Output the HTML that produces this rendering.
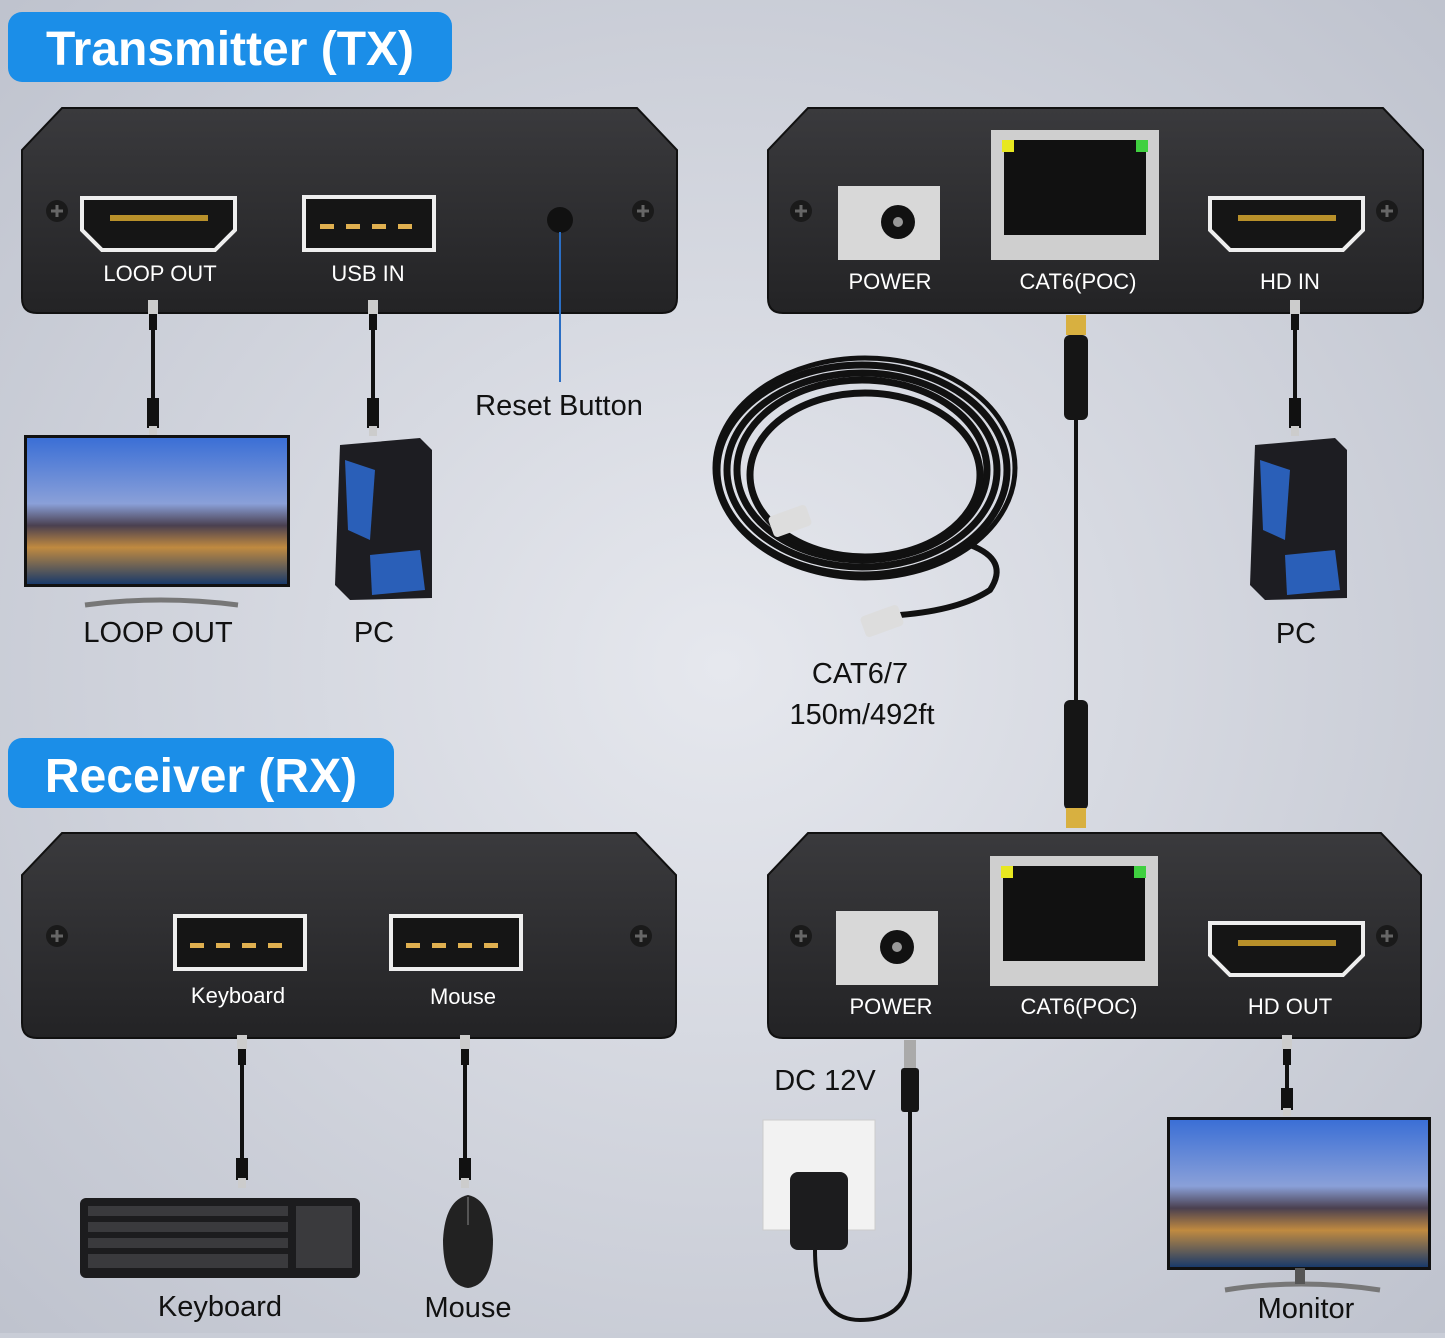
<!DOCTYPE html>
<html><head><meta charset="utf-8"><style>
html,body{margin:0;padding:0;}
body{width:1445px;height:1333px;overflow:hidden;background:#c9cdd7;}
svg text{font-family:"Liberation Sans",sans-serif;}
</style></head><body>
<svg width="1445" height="1333" viewBox="0 0 1445 1333" xmlns="http://www.w3.org/2000/svg">
<defs>
<radialGradient id="bg" cx="50%" cy="50%" r="70%">
<stop offset="0" stop-color="#e6e8ee"/><stop offset="1" stop-color="#bfc3ce"/></radialGradient>
<linearGradient id="dev" x1="0" y1="0" x2="0" y2="1">
<stop offset="0" stop-color="#3a3a3d"/><stop offset="1" stop-color="#232325"/></linearGradient>
<linearGradient id="scr" x1="0" y1="0" x2="0" y2="1">
<stop offset="0" stop-color="#3b6fd6"/><stop offset="0.45" stop-color="#8aa0d8"/><stop offset="0.6" stop-color="#4a4050"/><stop offset="0.75" stop-color="#c08a40"/><stop offset="1" stop-color="#1a3a6a"/></linearGradient>
<g id="screw"><circle r="11" fill="#1a1a1a"/><path d="M-6 0H6M0 -6V6" stroke="#666" stroke-width="3"/></g>
<g id="usbplug"><rect x="-5" y="0" width="10" height="14" fill="#ccc"/><rect x="-4" y="14" width="8" height="16" fill="#111"/></g>
</defs>
<rect width="1445" height="1333" fill="url(#bg)"/>

<!-- Titles -->
<rect x="8" y="12" width="444" height="70" rx="14" fill="#1b8ee8"/>
<text x="230" y="65" font-size="48" font-weight="bold" fill="#fff" text-anchor="middle">Transmitter (TX)</text>
<rect x="8" y="738" width="386" height="70" rx="14" fill="#1b8ee8"/>
<text x="201" y="792" font-size="48" font-weight="bold" fill="#fff" text-anchor="middle">Receiver (RX)</text>

<!-- Devices -->
<g fill="url(#dev)" stroke="#111" stroke-width="2">
<path d="M62 108H637L677 150V298Q677 313 662 313H37Q22 313 22 298V150Z"/>
<path d="M808 108H1383L1423 150V298Q1423 313 1408 313H783Q768 313 768 298V150Z"/>
<path d="M62 833H636L676 875V1023Q676 1038 661 1038H37Q22 1038 22 1023V875Z"/>
<path d="M808 833H1381L1421 875V1023Q1421 1038 1406 1038H783Q768 1038 768 1023V875Z"/>
</g>
<use href="#screw" x="57" y="211"/><use href="#screw" x="643" y="211"/>
<use href="#screw" x="801" y="211"/><use href="#screw" x="1387" y="211"/>
<use href="#screw" x="57" y="936"/><use href="#screw" x="641" y="936"/>
<use href="#screw" x="801" y="936"/><use href="#screw" x="1387" y="936"/>

<!-- TX left ports -->
<path d="M82 198H235V230L215 250H102L82 230Z" fill="#151515" stroke="#eee" stroke-width="4"/>
<rect x="110" y="215" width="98" height="6" fill="#b8902a"/>
<rect x="304" y="197" width="130" height="53" fill="#151515" stroke="#eee" stroke-width="4"/>
<g fill="#e0b050"><rect x="320" y="224" width="14" height="5"/><rect x="346" y="224" width="14" height="5"/><rect x="372" y="224" width="14" height="5"/><rect x="398" y="224" width="14" height="5"/></g>
<circle cx="560" cy="220" r="13" fill="#111"/>
<line x1="560" y1="232" x2="560" y2="382" stroke="#2a6ec4" stroke-width="2"/>
<g fill="#fff" font-size="22" text-anchor="middle">
<text x="160" y="281">LOOP OUT</text><text x="368" y="281">USB IN</text>
<text x="890" y="289">POWER</text><text x="1078" y="289">CAT6(POC)</text><text x="1290" y="289">HD IN</text>
<text x="238" y="1003">Keyboard</text><text x="463" y="1004">Mouse</text>
<text x="891" y="1014">POWER</text><text x="1079" y="1014">CAT6(POC)</text><text x="1290" y="1014">HD OUT</text>
</g>

<!-- TX right ports -->
<rect x="838" y="186" width="102" height="74" fill="#d8d8d8"/><circle cx="898" cy="222" r="17" fill="#111"/><circle cx="898" cy="222" r="5" fill="#999"/>
<rect x="991" y="130" width="168" height="130" fill="#cfcfcf"/><rect x="1004" y="140" width="142" height="95" fill="#111"/>
<rect x="1002" y="140" width="12" height="12" fill="#e8e820"/><rect x="1136" y="140" width="12" height="12" fill="#40d040"/>
<path d="M1210 198H1363V230L1343 250H1230L1210 230Z" fill="#151515" stroke="#eee" stroke-width="4"/>
<rect x="1238" y="215" width="98" height="6" fill="#b8902a"/>

<!-- RX left ports -->
<rect x="175" y="916" width="130" height="53" fill="#151515" stroke="#eee" stroke-width="4"/>
<rect x="391" y="916" width="130" height="53" fill="#151515" stroke="#eee" stroke-width="4"/>
<g fill="#e0b050"><rect x="190" y="943" width="14" height="5"/><rect x="216" y="943" width="14" height="5"/><rect x="242" y="943" width="14" height="5"/><rect x="268" y="943" width="14" height="5"/>
<rect x="406" y="943" width="14" height="5"/><rect x="432" y="943" width="14" height="5"/><rect x="458" y="943" width="14" height="5"/><rect x="484" y="943" width="14" height="5"/></g>

<!-- RX right ports -->
<rect x="836" y="911" width="102" height="74" fill="#d8d8d8"/><circle cx="897" cy="947" r="17" fill="#111"/><circle cx="897" cy="947" r="5" fill="#999"/>
<rect x="990" y="856" width="168" height="130" fill="#cfcfcf"/><rect x="1003" y="866" width="142" height="95" fill="#111"/>
<rect x="1001" y="866" width="12" height="12" fill="#e8e820"/><rect x="1134" y="866" width="12" height="12" fill="#40d040"/>
<path d="M1210 923H1363V955L1343 975H1230L1210 955Z" fill="#151515" stroke="#eee" stroke-width="4"/>
<rect x="1238" y="940" width="98" height="6" fill="#b8902a"/>

<!-- Cables -->
<g stroke="#111" stroke-width="4" fill="none">
<line x1="153" y1="330" x2="153" y2="400"/><line x1="373" y1="330" x2="373" y2="400"/>
<line x1="1295" y1="330" x2="1295" y2="400"/>
<line x1="1076" y1="420" x2="1076" y2="700"/>
<line x1="242" y1="1060" x2="242" y2="1160"/><line x1="465" y1="1060" x2="465" y2="1160"/>
<line x1="1287" y1="1060" x2="1287" y2="1090"/>
<path d="M910 1110V1270Q910 1320 860 1320Q815 1320 815 1250"/>
</g>
<g>
<use href="#usbplug" x="153" y="300"/><use href="#usbplug" x="373" y="300"/><use href="#usbplug" x="1295" y="300"/>
<use href="#usbplug" x="242" y="1035"/><use href="#usbplug" x="465" y="1035"/><use href="#usbplug" x="1287" y="1035"/>
<rect x="147" y="398" width="12" height="30" fill="#111"/><rect x="149" y="426" width="8" height="10" fill="#ccc"/>
<rect x="367" y="398" width="12" height="30" fill="#111"/><rect x="369" y="426" width="8" height="10" fill="#ccc"/>
<rect x="1289" y="398" width="12" height="30" fill="#111"/><rect x="1291" y="426" width="8" height="10" fill="#ccc"/>
<rect x="236" y="1158" width="12" height="22" fill="#111"/><rect x="238" y="1178" width="8" height="10" fill="#ccc"/>
<rect x="459" y="1158" width="12" height="22" fill="#111"/><rect x="461" y="1178" width="8" height="10" fill="#ccc"/>
<rect x="1281" y="1088" width="12" height="22" fill="#111"/><rect x="1283" y="1108" width="8" height="8" fill="#ccc"/>
<!-- cat6 plugs -->
<rect x="1066" y="315" width="20" height="20" fill="#d8b040"/><rect x="1064" y="335" width="24" height="85" rx="6" fill="#151515"/>
<rect x="1064" y="700" width="24" height="110" rx="6" fill="#151515"/><rect x="1066" y="808" width="20" height="20" fill="#d8b040"/>
<rect x="904" y="1040" width="12" height="30" fill="#aaa"/><rect x="901" y="1068" width="18" height="44" rx="3" fill="#151515"/>
</g>

<!-- Cable coil -->
<g fill="none" stroke="#111" stroke-width="7">
<ellipse cx="862" cy="470" rx="145" ry="105"/><ellipse cx="862" cy="470" rx="135" ry="97"/>
<ellipse cx="862" cy="470" rx="125" ry="90"/><ellipse cx="865" cy="475" rx="115" ry="82"/>
<ellipse cx="865" cy="468" rx="150" ry="110" stroke-width="5"/>
<path d="M970 545Q1010 560 990 590Q960 610 900 615" stroke-width="6"/>
</g>
<rect x="770" y="510" width="40" height="22" rx="4" fill="#ddd" transform="rotate(-20 790 521)"/>
<rect x="862" y="610" width="40" height="22" rx="4" fill="#ddd" transform="rotate(-20 882 621)"/>

<!-- Monitors -->
<rect x="24" y="435" width="266" height="152" fill="#111"/><rect x="27" y="438" width="260" height="146" fill="url(#scr)"/>
<path d="M85 605Q160 595 238 605" stroke="#777" stroke-width="5" fill="none"/>
<rect x="1167" y="1117" width="264" height="153" fill="#111"/><rect x="1170" y="1120" width="258" height="147" fill="url(#scr)"/>
<path d="M1225 1290Q1300 1278 1380 1290" stroke="#777" stroke-width="5" fill="none"/>
<rect x="1295" y="1268" width="10" height="16" fill="#555"/>

<!-- PCs -->
<g>
<path d="M340 445L420 438L432 450V598L350 600L335 585Z" fill="#1d1d22"/>
<path d="M345 460L375 470L370 540L348 530Z" fill="#2a5fb8"/><path d="M370 555L420 550L425 590L372 595Z" fill="#2a5fb8"/>
<path d="M1255 445L1335 438L1347 450V598L1265 600L1250 585Z" fill="#1d1d22"/>
<path d="M1260 460L1290 470L1285 540L1263 530Z" fill="#2a5fb8"/><path d="M1285 555L1335 550L1340 590L1287 595Z" fill="#2a5fb8"/>
</g>

<!-- Keyboard & mouse -->
<rect x="80" y="1198" width="280" height="80" rx="6" fill="#1c1c1e"/>
<g fill="#3a3a3d">
<rect x="88" y="1206" width="200" height="10"/><rect x="88" y="1222" width="200" height="10"/><rect x="88" y="1238" width="200" height="10"/><rect x="88" y="1254" width="200" height="14"/>
<rect x="296" y="1206" width="56" height="62"/>
</g>
<path d="M468 1195Q445 1200 443 1240Q443 1285 468 1288Q493 1285 493 1240Q491 1200 468 1195Z" fill="#222"/>
<line x1="468" y1="1197" x2="468" y2="1225" stroke="#555" stroke-width="2"/>

<!-- Wall outlet & adapter -->
<rect x="763" y="1120" width="112" height="110" fill="#f2f2f2" stroke="#ccc"/>
<rect x="790" y="1172" width="58" height="78" rx="8" fill="#1c1c1e"/>

<!-- Labels -->
<g fill="#111" font-size="29" text-anchor="middle">
<text x="158" y="642">LOOP OUT</text><text x="374" y="642">PC</text>
<text x="1296" y="643">PC</text>
<text x="559" y="415">Reset Button</text>
<text x="860" y="683">CAT6/7</text><text x="862" y="724">150m/492ft</text>
<text x="825" y="1090">DC 12V</text>
<text x="220" y="1316">Keyboard</text><text x="468" y="1317">Mouse</text><text x="1306" y="1318">Monitor</text>
</g>
</svg>
</body></html>
